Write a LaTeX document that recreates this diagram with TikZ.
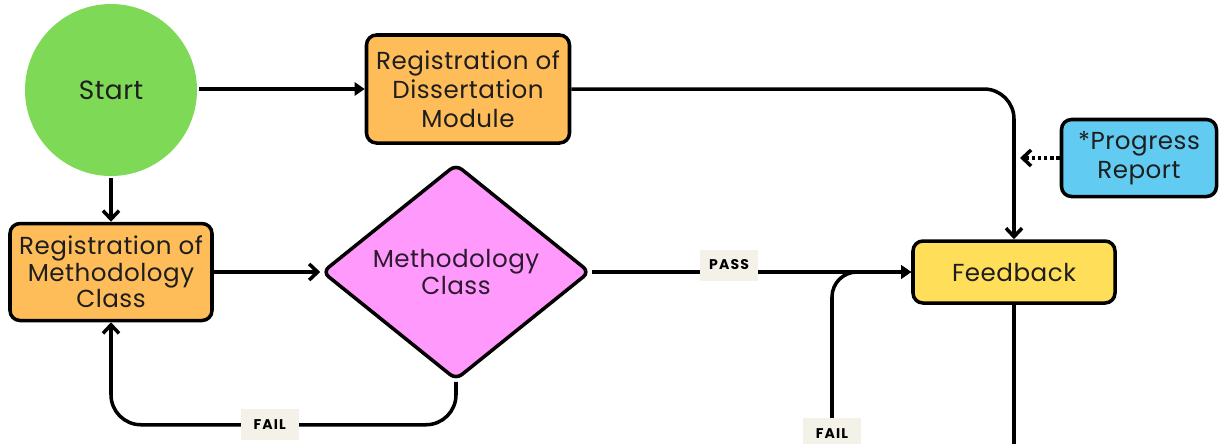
\documentclass[tikz,border=0pt]{standalone}
\usepackage{fontspec}
\setmainfont{Poppins}[LetterSpace=2]
\newfontfamily\tagfont{Poppins}[LetterSpace=8]
\usepackage{tikz}
\usetikzlibrary{arrows.meta}
\usetikzlibrary{shapes.geometric}

\definecolor{startgreen}{HTML}{7ED957}
\definecolor{boxorange}{HTML}{FFBD59}
\definecolor{classpink}{HTML}{FF99FC}
\definecolor{feedyellow}{HTML}{FFDE59}
\definecolor{reportblue}{HTML}{62CBF1}
\definecolor{tagbg}{HTML}{F4F1E9}
\definecolor{ink}{HTML}{1E1E1E}
\definecolor{plumink}{HTML}{2E1A30}

\begin{document}
\begin{tikzpicture}[x=0.2mm, y=-0.2mm,
	tag/.style={fill=tagbg, sharp corners, inner sep=0pt, minimum width=11.6mm, minimum height=6.2mm,
	            font=\tagfont\bfseries\fontsize{8}{9}\selectfont},
	solidtip/.style={-{Triangle[length=2mm, width=2.6mm]}},
	barbtip/.style={-{Straight Barb[length=1.7mm, width=3.2mm]}}]
	\useasboundingbox (0,0) rectangle (1219,443);
	\clip (0,0) rectangle (1219,443);

	\begin{scope}[every node/.style={draw=black, line width=2pt, rounded corners=2mm, align=center,
	                                 text=ink, font=\fontsize{14}{16.5}\selectfont}]
		\node[circle, draw=none, fill=startgreen, minimum size=34.4mm, font=\fontsize{15}{16.5}\selectfont] (start) at (111,90) {Start};
		\node[fill=boxorange, minimum width=40.6mm, minimum height=21.6mm] (regdiss) at (468,89) {Registration of\\Dissertation\\Module};
		\node[fill=boxorange, minimum width=40.4mm, minimum height=19.4mm, font=\fontsize{14}{14}\selectfont] (regmeth) at (111,272) {Registration of\\Methodology\\Class};
		\node[diamond, fill=classpink, text=plumink, shape aspect=1.24, inner sep=1mm, minimum width=53.6mm, minimum height=43.2mm,
		      rounded corners=1.5mm, font=\fontsize{14}{14}\selectfont] (method) at (456,272) {Methodology\\Class};
		\node[fill=feedyellow, minimum width=40.4mm, minimum height=12.4mm] (feedback) at (1014,272) {Feedback};
		\node[fill=reportblue, minimum width=31mm, minimum height=15.4mm] (report) at (1139,158) {*Progress\\Report};
	\end{scope}

	% loose ends
	\coordinate (reporttip) at (1020,158);
	\coordinate (failfoot) at (832,460);
	\coordinate (feedfoot) at (1014,460);

	\begin{scope}[line width=2pt]
		\draw[solidtip] (start.east |- regdiss) -- (regdiss);
		\draw[barbtip] (start) -- (regmeth);
		\draw[barbtip] (regmeth) -- (method);
		\draw[barbtip, rounded corners=6mm] (regdiss.east) -| (feedback.north);
		\draw[barbtip, dash pattern=on 2pt off 1.5pt] (report.west) -- (reporttip);
		\draw[solidtip] (method.east) -- node[tag, pos=0.43, yshift=1.4mm] {PASS} (feedback.west);
		\draw[barbtip, rounded corners=6mm] (method.south) -- ++(0,43) -| node[tag, pos=0.27] {FAIL} (regmeth.south);
		\draw[solidtip, rounded corners=5mm] (failfoot) |- node[tag, pos=0.07] {FAIL} (feedback.west);
		\draw (feedback) -- (feedfoot);
	\end{scope}
\end{tikzpicture}
\end{document}
